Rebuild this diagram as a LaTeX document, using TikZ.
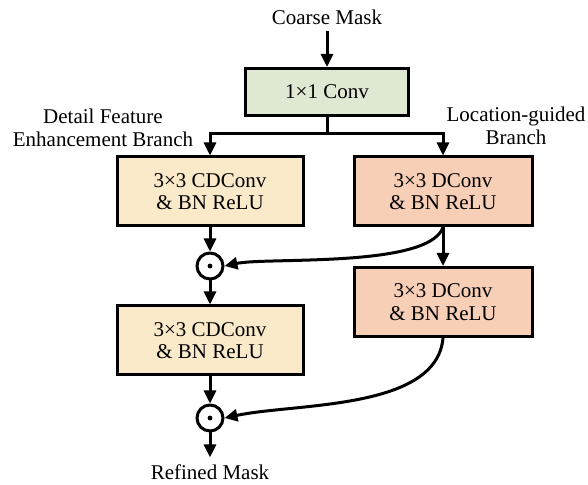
\documentclass[tikz,border=0pt]{standalone}
\usepackage{fontspec}
\setmainfont{Liberation Serif}
\usetikzlibrary{arrows.meta}
\definecolor{convgreen}{RGB}{223,232,211}
\definecolor{cdyellow}{RGB}{250,234,201}
\definecolor{dsalmon}{RGB}{247,206,182}

\begin{document}
\begin{tikzpicture}[x=0.5pt,y=-0.5pt,>={Triangle[length=6.5pt,width=6pt]},
  every node/.style={font=\fontsize{10.5}{11.2}\selectfont},
  blk/.style={draw,line width=1.5pt,align=center,minimum height=34.5pt,inner sep=1pt},
  odot/.style={circle,draw,line width=1.5pt,minimum size=13pt,inner sep=0pt,
    path picture={\fill (path picture bounding box.center) circle (1.2pt);}},
  flow/.style={->,line width=1.5pt}]
  \useasboundingbox (0,0) rectangle (588,485);
  \node (coarse) at (327,17) {Coarse Mask};
  \node[blk,fill=convgreen,minimum width=81.5pt,minimum height=23.5pt] (c1) at (327,92) {1×1 Conv};
  \node[blk,fill=cdyellow,minimum width=93pt] (cd1) at (210,191.5) {3×3 CDConv\\\& BN ReLU};
  \node[blk,fill=cdyellow,minimum width=93pt] (cd2) at (210,340.5) {3×3 CDConv\\\& BN ReLU};
  \node[blk,fill=dsalmon,minimum width=89pt] (dc1) at (443,191.5) {3×3 DConv\\\& BN ReLU};
  \node[blk,fill=dsalmon,minimum width=89pt] (dc2) at (443,302) {3×3 DConv\\\& BN ReLU};
  \node[odot] (m1) at (210,266) {};
  \node[odot] (m2) at (210,418) {};
  \node (refined) at (210,472) {Refined Mask};
  \node[align=center,font=\fontsize{10.5}{11.5}\selectfont] (lblcd) at (103,128) {Detail Feature\\Enhancement Branch};
  \node[align=center,font=\fontsize{10.5}{11.5}\selectfont] (lbld) at (516,126) {Location-guided\\Branch};
  \coordinate (split) at (327,134);
  % main flow
  \draw[flow] (coarse) -- (c1);
  \draw[line width=1.5pt] (c1) -- (split);
  \draw[flow] (split) -| (cd1.north);
  \draw[flow] (split) -| (dc1.north);
  \draw[flow] (cd1) -- (m1);
  \draw[flow] (m1) -- (cd2);
  \draw[flow] (cd2) -- (m2);
  \draw[flow] (m2) -- (refined);
  \draw[flow] (dc1) -- (dc2);
  % location guidance
  \draw[flow] (dc1.south) to[out=-110,in=12,looseness=0.5] (m1.east);
  \draw[flow] (dc2.south) to[out=-95,in=12,looseness=0.8] (m2.east);
\end{tikzpicture}
\end{document}
